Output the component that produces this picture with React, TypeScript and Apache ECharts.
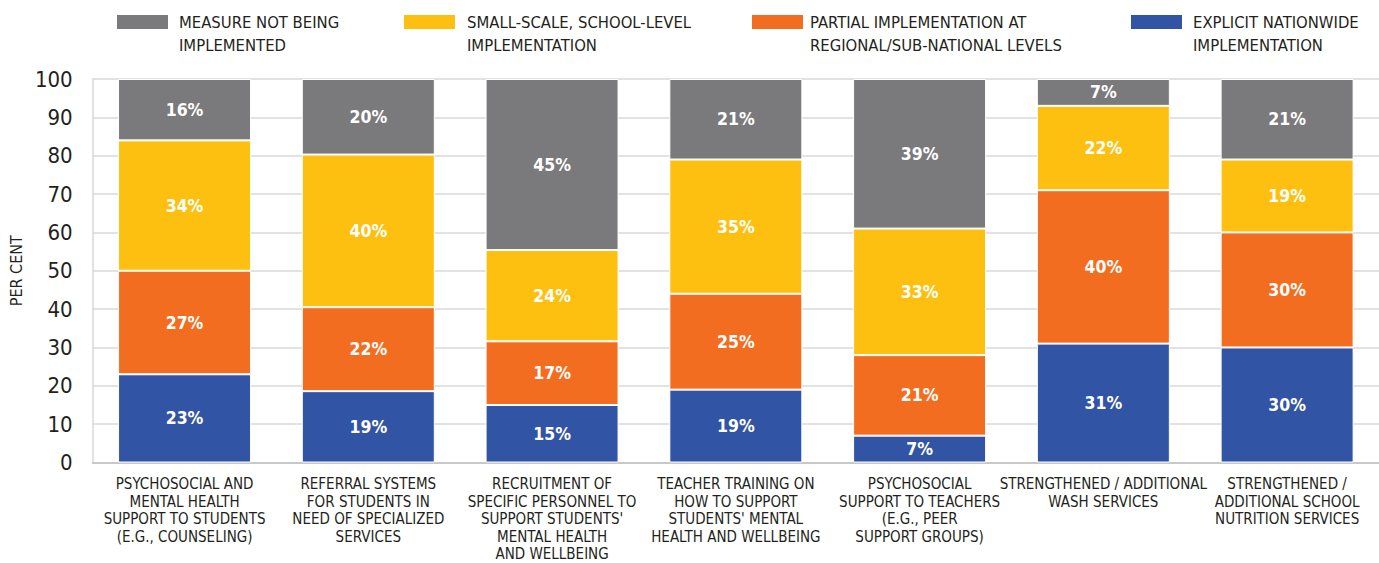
import React, { useEffect, useRef } from "react";
import * as echarts from "echarts";

const categories = [
  "PSYCHOSOCIAL AND\nMENTAL HEALTH\nSUPPORT TO STUDENTS\n(E.G., COUNSELING)",
  "REFERRAL SYSTEMS\nFOR STUDENTS IN\nNEED OF SPECIALIZED\nSERVICES",
  "RECRUITMENT OF\nSPECIFIC PERSONNEL TO\nSUPPORT STUDENTS'\nMENTAL HEALTH\nAND WELLBEING",
  "TEACHER TRAINING ON\nHOW TO SUPPORT\nSTUDENTS' MENTAL\nHEALTH AND WELLBEING",
  "PSYCHOSOCIAL\nSUPPORT TO TEACHERS\n(E.G., PEER\nSUPPORT GROUPS)",
  "STRENGTHENED / ADDITIONAL\nWASH SERVICES",
  "STRENGTHENED /\nADDITIONAL SCHOOL\nNUTRITION SERVICES",
];

const seriesNames = [
  "EXPLICIT NATIONWIDE\nIMPLEMENTATION",
  "PARTIAL IMPLEMENTATION AT\nREGIONAL/SUB-NATIONAL LEVELS",
  "SMALL-SCALE, SCHOOL-LEVEL\nIMPLEMENTATION",
  "MEASURE NOT BEING\nIMPLEMENTED",
];

const explicitNationwide = [23, 18.6, 15, 19, 7, 31, 30];
const partialRegional = [27, 21.9, 16.6, 25, 21, 40, 30];
const smallScaleSchool = [34, 39.8, 23.8, 35, 33, 22, 19];
const notImplemented = [16, 19.7, 44.6, 21, 39, 7, 21];

const yTicks = { min: 0, max: 100, interval: 10 };

const colors = ["#3254a4", "#f36d21", "#fdc010", "#7a7a7c"];
const FONT = "'Liberation Sans Narrow', 'DejaVu Sans Condensed', 'Roboto', sans-serif";
const TEXT = "#231f20";

// legend order (top): grey, yellow, orange, blue
const legendOrder = [3, 2, 1, 0];
const legendIconX = [117, 404, 752, 1131];
const legendTextX = [179, 467, 810, 1193];

export default function App() {
  const ref = useRef<HTMLDivElement>(null);

  useEffect(() => {
    if (!ref.current) return;
    const chart = echarts.init(ref.current, null, { renderer: "svg" });
    const values = [explicitNationwide, partialRegional, smallScaleSchool, notImplemented];

    const graphics: any[] = [];
    legendOrder.forEach((si, i) => {
      graphics.push({
        type: "rect",
        left: legendIconX[i],
        top: 15,
        shape: { width: 51, height: 14 },
        style: { fill: colors[si] },
      });
      graphics.push({
        type: "text",
        left: legendTextX[i],
        top: 11,
        style: {
          text: seriesNames[si],
          fontFamily: FONT,
          fontSize: 16.5,
          lineHeight: 23,
          fill: TEXT,
        },
      });
    });

    chart.setOption({
      animation: false,
      backgroundColor: "#ffffff",
      grid: { left: 91, right: -21, top: 79, bottom: 92, containLabel: false },
      graphic: graphics,
      xAxis: {
        type: "category",
        data: categories,
        axisLine: { lineStyle: { color: "#c8c8c8", width: 2 } },
        axisTick: { show: false },
        axisLabel: {
          interval: 0,
          fontFamily: FONT,
          fontSize: 15,
          lineHeight: 17.5,
          color: TEXT,
          margin: 13,
        },
      },
      yAxis: {
        type: "value",
        min: yTicks.min,
        max: yTicks.max,
        interval: yTicks.interval,
        name: "PER CENT",
        nameLocation: "middle",
        nameRotate: 90,
        nameGap: 60,
        nameTextStyle: { fontFamily: FONT, fontSize: 16, color: TEXT },
        axisLine: { show: true, lineStyle: { color: "#d9d9d9", width: 1.5 } },
        axisTick: { show: false },
        axisLabel: { fontFamily: FONT, fontSize: 22, color: TEXT, margin: 20 },
        splitLine: { lineStyle: { color: "#d9d9d9", width: 1.5 } },
      },
      series: values.map((v, i) => ({
        name: seriesNames[i],
        type: "bar",
        stack: "total",
        data: v,
        barWidth: 133,
        itemStyle: { color: colors[i], borderColor: "#ffffff", borderWidth: 1 },
        label: {
          show: true,
          position: "inside",
          formatter: (p: any) => Math.round(p.value) + "%",
          color: "#ffffff",
          fontFamily: FONT,
          fontWeight: "bold",
          fontSize: 17.5,
        },
      })),
    });

    return () => chart.dispose();
  }, []);

  return (
    <div
      ref={ref}
      style={{ position: "fixed", left: 0, top: 0, width: 1379, height: 563 }}
    />
  );
}
